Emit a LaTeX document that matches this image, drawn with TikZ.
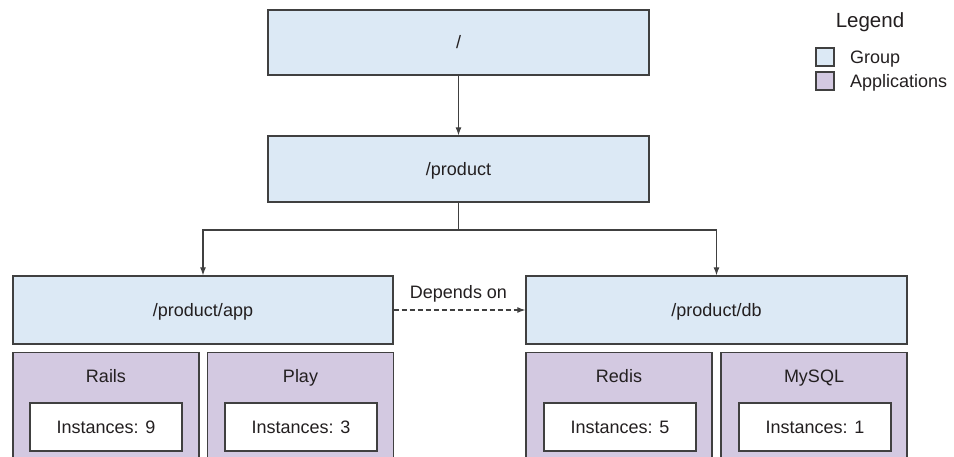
\documentclass[tikz,border=0pt]{standalone}
\usepackage{fontspec}
\setmainfont{Liberation Sans}
\usetikzlibrary{arrows.meta}
\definecolor{grpfill}{HTML}{DCE9F5}
\definecolor{appfill}{HTML}{D3C9E1}
\definecolor{edge}{HTML}{404040}
\definecolor{txt}{HTML}{231F20}
\tikzset{
  x=1pt, y=1pt,
  every node/.style={font=\fontsize{18}{21}\selectfont, text=txt, text height=12.5pt, text depth=0pt},
  grp/.style={draw=edge, line width=1.3pt, fill=grpfill, rectangle, inner sep=0pt},
  appbox/.style={draw=edge, line width=1.3pt, fill=appfill, rectangle, inner sep=0pt, minimum width=186pt, minimum height=120pt},
  inst/.style={draw=edge, line width=1.3pt, fill=white, rectangle, inner sep=0pt, minimum width=152pt, minimum height=48pt},
  conn/.style={draw=edge, line width=1.2pt, -{Latex[length=8pt,width=6pt]}},
  swatch/.style={draw=edge, line width=1.2pt, rectangle, inner sep=0pt, minimum width=18pt, minimum height=18pt},
}
\begin{document}
\begin{tikzpicture}
\useasboundingbox (0,0) rectangle (954,-456);
% groups
\node[grp, minimum width=381pt, minimum height=65pt] (root) at (458.5,-42.5) {/};
\node[grp, minimum width=381pt, minimum height=66pt] (product) at (458.5,-169) {/product};
\node[grp, minimum width=380pt, minimum height=68pt] (app) at (203,-310) {/product/app};
\node[grp, minimum width=381pt, minimum height=68pt] (db) at (716.5,-310) {/product/db};
% applications (cut at bottom edge)
\node[appbox, anchor=north] (rails) at (106,-352) {};
\node[appbox, anchor=north] (play) at (300.5,-352) {};
\node[appbox, anchor=north] (redis) at (619,-352) {};
\node[appbox, anchor=north] (mysql) at (814,-352) {};
\node (railsT) at (106,-376) {Rails};
\node (playT) at (300.5,-376) {Play};
\node (redisT) at (619,-376) {Redis};
\node (mysqlT) at (814,-376) {MySQL};
\node[inst] (railsI) at (106,-427) {Instances: 9};
\node[inst] (playI) at (301,-427) {Instances: 3};
\node[inst] (redisI) at (620,-427) {Instances: 5};
\node[inst] (mysqlI) at (815,-427) {Instances: 1};
% connectors
\draw[conn] (root.south) -- (product.north);
\coordinate (split) at (458.5,-230);
\draw[draw=edge, line width=1.2pt] (product.south) -- (split);
\draw[conn] (split) -| (app.north);
\draw[conn] (split) -| (db.north);
\draw[conn, dash pattern=on 5pt off 3pt] (app.east) -- (db.west);
\node (dep) at (458.5,-292) {Depends on};
% legend
\node[font=\fontsize{20.5}{24}\selectfont, text height=14.5pt] (legend) at (870,-20) {Legend};
\node[swatch, fill=grpfill] (sg) at (825,-57) {};
\node[swatch, fill=appfill] (sa) at (825,-81) {};
\node[anchor=west, inner sep=0pt] (lg) at (850,-57) {Group};
\node[anchor=west, inner sep=0pt] (la) at (850,-81) {Applications};
\end{tikzpicture}
\end{document}
